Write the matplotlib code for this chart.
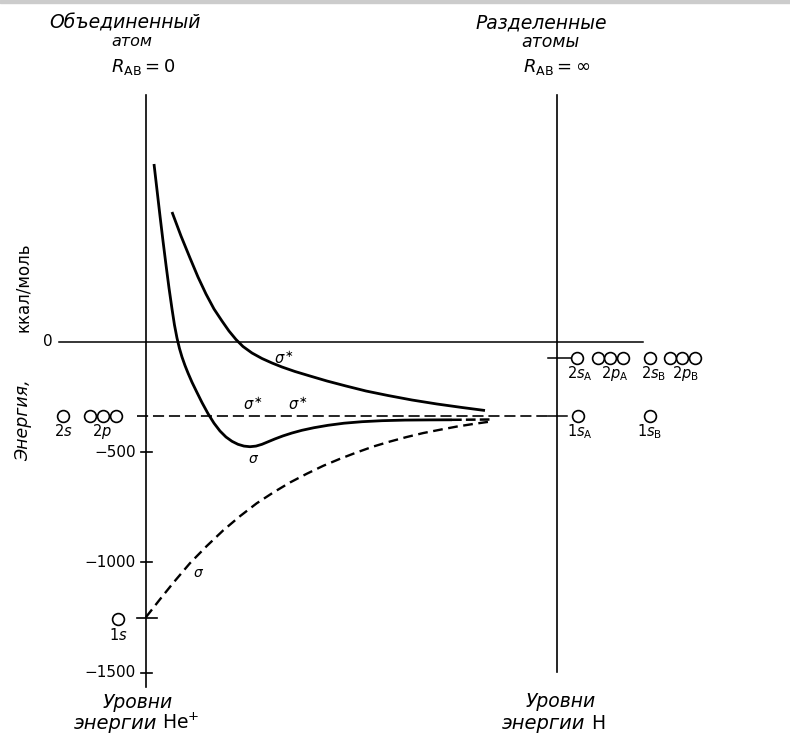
import matplotlib.pyplot as plt
import matplotlib.patches as mpatches

plt.rcParams['lines.scale_dashes'] = False
plt.rcParams['mathtext.fontset'] = 'dejavusans'

# R scale is arbitrary: 0 = united atom (He+), 100 = separated atoms (H + H+)
# energies in kcal/mol

# antibonding sigma* (solid, upper)
r_sig_star = [6.33, 8.52, 10.71, 12.65, 14.60, 16.55, 18.49, 20.19, 21.90, 23.60, 25.79,
              28.22, 30.66, 33.09, 36.25, 39.90, 44.04, 48.66, 53.53, 58.88, 64.72,
              70.80, 76.89, 82.48]
e_sig_star = [587.7, 478.9, 379.2, 293.2, 216.1, 148.2, 93.8, 48.5, 10.0, -21.7, -51.2,
              -76.1, -96.5, -114.6, -135.0, -155.4, -178.1, -200.7, -223.4, -243.8, -264.2,
              -282.3, -298.1, -311.7]

# bonding sigma (solid, with minimum)
r_sig = [1.95, 2.68, 3.41, 4.14, 4.87, 5.60, 6.33, 6.93, 7.54, 8.15, 8.76, 9.49, 10.22,
         11.19, 12.34, 13.62, 15.09, 16.55, 18.00, 19.46, 20.92, 22.38, 23.84, 25.30,
         26.76, 28.22, 29.68, 31.39, 33.33, 35.52, 37.95, 40.87, 44.28, 48.17, 52.55,
         57.42, 63.01, 69.10, 74.45]
e_sig = [805.2, 687.4, 569.6, 456.3, 347.5, 243.3, 148.2, 75.7, 16.8, -30.8, -69.3, -107.8,
         -141.8, -183.5, -227.5, -275.5, -325.8, -369.3, -404.6, -431.8, -451.3, -464.9,
         -473.0, -475.8, -473.0, -464.9, -453.6, -440.4, -426.8, -413.7, -401.4, -389.7,
         -378.8, -369.3, -362.5, -357.9, -355.2, -354.3, -353.9]
r_sig_tail = [74.45, 84.18]
e_sig_tail = [-353.9, -352.5]

# He+ 1s -> H 1s correlation (dashed)
r_he = [0.0, 3.41, 6.64, 10.71, 14.77, 18.81, 22.87, 26.93, 30.97, 35.04, 39.10, 43.14,
        47.20, 51.21, 55.23, 59.37, 63.43, 67.47, 71.53, 75.54, 79.56, 84.18]
e_he = [-1248, -1167.1, -1092.5, -1003.3, -926.1, -854.5, -790.6, -732.3, -683.2, -637.9,
        -598.5, -562.2, -530.6, -502.1, -475.4, -452.3, -431.9, -413.8, -398.9, -384.8,
        -373.0, -360.8]

# energy levels
e_1s_he = -1250
e_n2 = -337        # He+ n=2 == H 1s
e_h2 = -73         # H n=2
left_ticks = [-500, -1000, -1500]
left_ticklabels = ['\u2212500', '\u22121000', '\u22121500']

# orbital circles (x-position)
he_2s_x = [-20.3]
he_2p_x = [-13.6, -10.5, -7.3]
he_1s_x = [-6.7]
h2_x = [104.8, 110.0, 112.9, 116.1, 122.6, 127.5, 130.3, 133.6]
h1_x = [105.2, 122.6]

fig = plt.figure(figsize=(7.9, 7.36), dpi=100)
ax = fig.add_axes([0, 0, 1, 1])
ax.set_xlim(-35.52, 156.69)
ax.set_ylim(-1786.6, 1548.3)
ax.axis('off')

# thin grey band at top of scan
fig.patches.append(mpatches.Rectangle((0, 0.996), 1, 0.004, transform=fig.transFigure,
                                      color='#cccccc', zorder=0))

k = 'black'
# vertical axes
ax.plot([0, 0], [1120, -1565], color=k, lw=1.2)
ax.plot([100, 100], [1120, -1497], color=k, lw=1.2)
# zero line
ax.plot([-21.1, 121.0], [0, 0], color=k, lw=1.1)
# dashed level He+ n=2 / H 1s
l, = ax.plot([-2.2, 98.5], [e_n2, e_n2], color=k, lw=1.2)
l.set_dashes((8, 3.5))

# ticks on left axis
for t in left_ticks:
    ax.plot([-1.1, 1.4], [t, t], color=k, lw=1.2)
ax.plot([-2.3, 2.6], [e_1s_he, e_1s_he], color=k, lw=1.2)
# ticks on right axis
ax.plot([97.8, 105.5], [e_h2, e_h2], color=k, lw=1.1)
ax.plot([97.8, 102.5], [e_n2, e_n2], color=k, lw=1.1)

# curves
ax.plot(r_sig_star, e_sig_star, color=k, lw=2.0, solid_capstyle='butt', solid_joinstyle='round')
ax.plot(r_sig, e_sig, color=k, lw=2.0, solid_capstyle='butt', solid_joinstyle='round')
l, = ax.plot(r_sig_tail, e_sig_tail, color=k, lw=1.8)
l.set_dashes((7, 3))
l, = ax.plot(r_he, e_he, color=k, lw=1.7)
l.set_dashes((7, 4))

# orbital circles
mk = dict(marker='o', ms=8.5, mfc='white', mec=k, mew=1.2, ls='none')
ax.plot(he_2s_x, [e_n2] * len(he_2s_x), **mk)
ax.plot(he_2p_x, [e_n2] * len(he_2p_x), **mk)
ax.plot(he_1s_x, [e_1s_he - 5] * len(he_1s_x), **mk)
ax.plot(h2_x, [e_h2 - 3] * len(h2_x), **mk)
ax.plot(h1_x, [e_n2] * len(h1_x), **mk)

# tick labels
ax.text(-22.7, 0, '0', ha='right', va='center', fontsize=11)
for t, s in zip(left_ticks, left_ticklabels):
    ax.text(-2.4, t, s, ha='right', va='center', fontsize=11)

# orbital labels
fs = 10.5
ax.text(-20.0, -405, r'$2s$', ha='center', va='center', fontsize=fs)
ax.text(-10.8, -405, r'$2p$', ha='center', va='center', fontsize=fs)
ax.text(-6.7, -1328, r'$1s$', ha='center', va='center', fontsize=fs)
ax.text(105.6, -145, r'$2s_{\mathrm{A}}$', ha='center', va='center', fontsize=fs)
ax.text(114.0, -145, r'$2p_{\mathrm{A}}$', ha='center', va='center', fontsize=fs)
ax.text(123.4, -145, r'$2s_{\mathrm{B}}$', ha='center', va='center', fontsize=fs)
ax.text(131.2, -145, r'$2p_{\mathrm{B}}$', ha='center', va='center', fontsize=fs)
ax.text(105.6, -408, r'$1s_{\mathrm{A}}$', ha='center', va='center', fontsize=fs)
ax.text(122.6, -408, r'$1s_{\mathrm{B}}$', ha='center', va='center', fontsize=fs)

# curve labels
fs2 = 10.5
ax.text(33.5, -75, r'$\sigma^{\ast}$', ha='center', va='center', fontsize=fs2)
ax.text(26.0, -285, r'$\sigma^{\ast}$', ha='center', va='center', fontsize=fs2)
ax.text(37.0, -285, r'$\sigma^{\ast}$', ha='center', va='center', fontsize=fs2)
ax.text(26.2, -530, r'$\sigma$', ha='center', va='center', fontsize=10)
ax.text(12.7, -1050, r'$\sigma$', ha='center', va='center', fontsize=10)

# headings
ax.text(-5.2, 1444, 'Объединенный', ha='center', va='center', fontsize=13.5, style='italic')
ax.text(-3.4, 1359, 'атом', ha='center', va='center', fontsize=11.5, style='italic')
ax.text(-0.7, 1246, r'$R_{\mathrm{AB}}=0$', ha='center', va='center', fontsize=13)
ax.text(96.1, 1444, 'Разделенные', ha='center', va='center', fontsize=13.5, style='italic')
ax.text(98.3, 1359, 'атомы', ha='center', va='center', fontsize=12.5, style='italic')
ax.text(100.0, 1246, r'$R_{\mathrm{AB}}=\infty$', ha='center', va='center', fontsize=13)

# bottom captions
ax.text(-2.0, -1636, 'Уровни', ha='center', va='center', fontsize=13.5, style='italic')
ax.text(2.7, -1728, 'энергии', ha='right', va='center', fontsize=14, style='italic')
ax.text(8.5, -1728, r'He$^{+}$', ha='center', va='center', fontsize=13.5)
ax.text(101.0, -1631, 'Уровни', ha='center', va='center', fontsize=13.5, style='italic')
ax.text(106.8, -1728, 'энергии', ha='right', va='center', fontsize=14, style='italic')
ax.text(110.0, -1728, 'H', ha='center', va='center', fontsize=13.5)

# y label
ax.text(-30.0, -355, 'Энергия,', rotation=90, ha='center', va='center', fontsize=12.5, style='italic')
ax.text(-30.0, 248, 'ккал/моль', rotation=90, ha='center', va='center', fontsize=12)

fig.savefig('out.png', dpi=100)
